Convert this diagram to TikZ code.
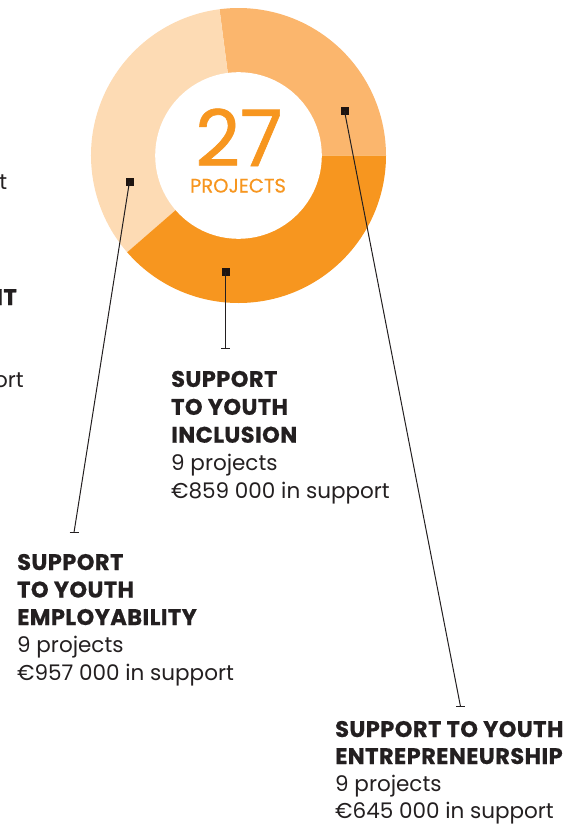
\documentclass[tikz,border=0pt]{standalone}
\usepackage{fontspec}
\setmainfont{Poppins}[BoldFeatures={FakeBold=0.6, LetterSpace=2}]
\usetikzlibrary{calc}
\definecolor{segdark}{HTML}{F7961F}
\definecolor{segmid}{HTML}{FBB66D}
\definecolor{seglight}{HTML}{FDDBB4}
\definecolor{ink}{HTML}{231F20}
\definecolor{mark}{HTML}{1E1410}
\newcommand{\hd}[1]{{\fontsize{22.5}{27.5}\selectfont\bfseries #1}}
\tikzset{
  lbl/.style={inner sep=0pt, anchor=base west, align=left, text=ink, font=\fontsize{21.5}{#1}\selectfont},
  frag/.style={inner sep=0pt, anchor=base east, text=ink, font=\fontsize{21.5}{27.5}\selectfont},
  marker/.style={fill=mark, inner sep=0pt, minimum size=8pt},
  leader/.style={draw=ink, line width=1pt},
}
\begin{document}
\begin{tikzpicture}[x=1pt,y=1pt]
\useasboundingbox (0,0) rectangle (577,-832);
\coordinate (C) at (238.5,-155.5);
% donut
\fill[segmid] (C) -- ++(0:147.5) arc[start angle=0, end angle=97.4, radius=147.5] -- cycle;
\fill[seglight] (C) -- ++(97.4:147.5) arc[start angle=97.4, end angle=221, radius=147.5] -- cycle;
\fill[segdark] (C) -- ++(221:147.5) arc[start angle=221, end angle=360, radius=147.5] -- cycle;
\fill[white] (C) circle[radius=83.3];
% centre text
\node[inner sep=0pt, anchor=base, text=segdark, text depth=0pt, font=\fontsize{78}{80}\selectfont\addfontfeatures{FakeBold=0.8}] (num) at (239,-166) {27};
\node[inner sep=0pt, anchor=base, text=segdark, text height=14pt, text depth=0pt, font=\fontsize{19.5}{20}\selectfont\addfontfeatures{FakeBold=0.5}] (proj) at (238,-192.5) {PROJECTS};
% markers
\node[marker] (m1) at (129.5,-181.5) {};
\node[marker] (m2) at (225.5,-271.5) {};
\node[marker] (m3) at (344.5,-111) {};
\coordinate (e1) at (74,-532.5);
\coordinate (e2) at (225.5,-348.5);
\coordinate (e3) at (460.5,-706.5);
\draw[leader] (m1.center) -- (e1);
\draw[leader] ([xshift=-4.5pt]e1) -- ([xshift=4.5pt]e1);
\draw[leader] (m2.center) -- (e2);
\draw[leader] ([xshift=-4.5pt]e2) -- ([xshift=4.5pt]e2);
\draw[leader] (m3.center) -- (e3);
\draw[leader] ([xshift=-4.5pt]e3) -- ([xshift=4.5pt]e3);
% labels (anchored at the baseline of the last line)
\node[lbl=27.9] (inc) at (171,-498.5) {\hd{SUPPORT}\\\hd{TO YOUTH}\\\hd{INCLUSION}\\9 projects\\€859 000 in support};
\node[lbl=27.5] (emp) at (17,-680) {\hd{SUPPORT}\\\hd{TO YOUTH}\\\hd{EMPLOYABILITY}\\9 projects\\€957 000 in support};
\node[lbl=27] (ent) at (335,-818) {\hd{SUPPORT TO YOUTH}\\\hd{ENTREPRENEURSHIP}\\9 projects\\€645 000 in support};
% fragments cut at the left edge
\node[frag] (f1) at (7.5,-189) {t};
\node[frag] (f2) at (17,-305) {\hd{IT}};
\node[frag] (f3) at (24,-387.5) {ort};
\end{tikzpicture}
\end{document}
